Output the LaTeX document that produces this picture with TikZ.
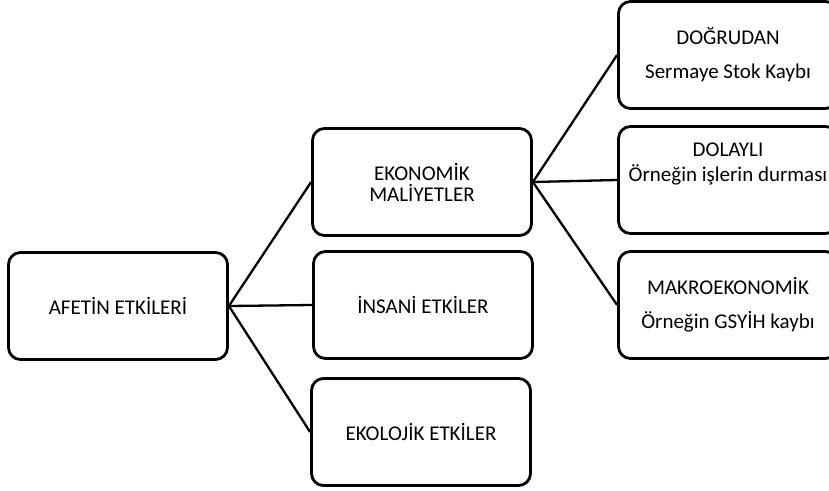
\documentclass[tikz,border=0pt]{standalone}
\usepackage{fontspec}
\setmainfont{Carlito}

\begin{document}
\begin{tikzpicture}[x=1pt, y=-1pt,
	kutu/.style={draw, line width=2.8pt, rounded corners=12pt, minimum width=219pt, minimum height=107pt, align=center, font=\fontsize{21}{24}\selectfont},
	bag/.style={line width=2.3pt}]
		\useasboundingbox (0,0) rectangle (829,490);
		\clip (0,0) rectangle (829,490);
		\node[kutu] (afet) at (118,306) {AFETİN ETKİLERİ};
		\node[kutu] (ekonomik) at (422,182) {EKONOMİK\\[-3pt]MALİYETLER};
		\node[kutu] (insani) at (423,305) {İNSANİ ETKİLER};
		\node[kutu] (ekolojik) at (421,432) {EKOLOJİK ETKİLER};
		\node[kutu] (dogrudan) at (728,55) {DOĞRUDAN\\[10pt]Sermaye Stok Kaybı};
		\node[kutu] (dolayli) at (728,180) {DOLAYLI\\[1pt]Örneğin işlerin durması\\[12pt]~};
		\node[kutu] (makro) at (728,305) {MAKROEKONOMİK\\[10pt]Örneğin GSYİH kaybı};
		\draw[bag] (afet.east) -- (ekonomik.west);
		\draw[bag] (afet.east) -- (insani.west);
		\draw[bag] (afet.east) -- (ekolojik.west);
		\draw[bag] (ekonomik.east) -- (dogrudan.west);
		\draw[bag] (ekonomik.east) -- (dolayli.west);
		\draw[bag] (ekonomik.east) -- (makro.west);
\end{tikzpicture}
\end{document}
